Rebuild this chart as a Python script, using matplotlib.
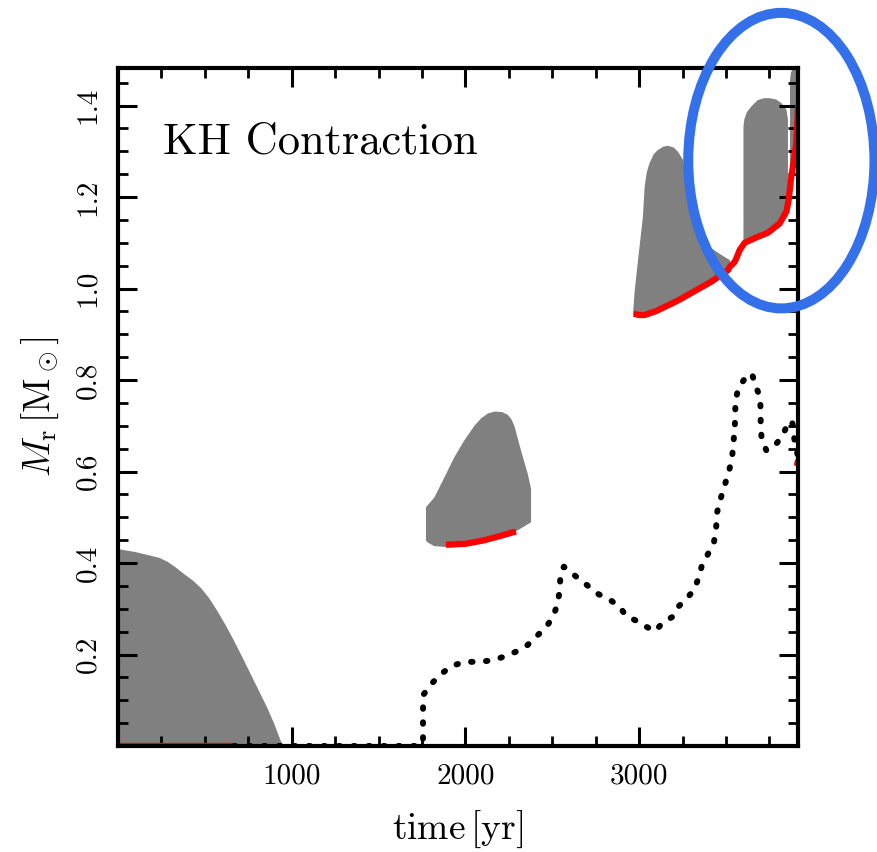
import matplotlib
matplotlib.use("Agg")
import matplotlib.pyplot as plt
from matplotlib.patches import Ellipse

plt.rcParams['font.family'] = ['cmr10', 'DejaVu Serif']
plt.rcParams['mathtext.fontset'] = 'cm'
plt.rcParams['axes.unicode_minus'] = False

# convective zones (outline in time [yr], mass coordinate [Msun])
zone1_t = [0, 5, 100, 188, 240, 284, 330, 380, 430, 476, 525, 572, 620, 668, 716, 764, 812,
           860, 900, 937, 955, 0]
zone1_m = [0.430, 0.430, 0.424, 0.416, 0.411, 0.403, 0.391, 0.376, 0.362, 0.346, 0.323, 0.295,
           0.264, 0.230, 0.194, 0.157, 0.120, 0.083, 0.048, 0.011, 0.0, 0.0]

zone2_t = [1773, 1773, 1821, 1879, 1936, 1994, 2052, 2090, 2130, 2170, 2210, 2244, 2265, 2282,
           2320, 2359, 2378, 2378, 2282, 2200, 2109, 2000, 1917, 1820, 1783]
zone2_m = [0.449, 0.522, 0.543, 0.587, 0.631, 0.668, 0.700, 0.716, 0.727, 0.731, 0.730, 0.724,
           0.714, 0.700, 0.646, 0.595, 0.562, 0.489, 0.467, 0.455, 0.445, 0.437, 0.434, 0.437,
           0.445]

zone3_t = [2965, 2975, 2994, 3022, 3032, 3045, 3060, 3085, 3109, 3140, 3166, 3200, 3224, 3253,
           3275, 3300, 3330, 3360, 3415, 3492, 3523, 3523, 3416, 3300, 3166, 3100, 3032, 2969]
zone3_m = [0.945, 0.996, 1.062, 1.157, 1.223, 1.255, 1.274, 1.294, 1.303, 1.310, 1.312, 1.308,
           1.299, 1.281, 1.220, 1.150, 1.120, 1.105, 1.088, 1.069, 1.062, 1.045, 1.015, 0.990,
           0.963, 0.951, 0.942, 0.942]

zone4_t = [3601, 3601, 3606, 3620, 3646, 3684, 3720, 3751, 3790, 3820, 3848, 3857, 3857, 3848,
           3809, 3742, 3665, 3608]
zone4_m = [1.100, 1.354, 1.370, 1.385, 1.398, 1.412, 1.416, 1.416, 1.413, 1.405, 1.391, 1.370,
           1.193, 1.168, 1.142, 1.122, 1.110, 1.100]

zone5_t = [3869, 3869, 3874, 3882, 3920, 3920, 3905, 3892, 3876]
zone5_m = [1.230, 1.455, 1.472, 1.478, 1.478, 1.300, 1.318, 1.281, 1.244]

# lower boundaries of the zones
bnd1_t = [0, 668]
bnd1_m = [0.0, 0.0]
bnd2_t = [1888, 2000, 2100, 2200, 2291]
bnd2_m = [0.440, 0.442, 0.449, 0.459, 0.469]
bnd3_t = [2969, 3000, 3032, 3100, 3166, 3230, 3300, 3416, 3512, 3521, 3550, 3560, 3579, 3608,
          3665, 3742, 3809, 3848, 3861, 3876, 3892, 3905, 3911, 3916]
bnd3_m = [0.945, 0.942, 0.942, 0.951, 0.963, 0.975, 0.990, 1.015, 1.040, 1.047, 1.058, 1.066,
          1.084, 1.100, 1.110, 1.122, 1.142, 1.168, 1.193, 1.244, 1.281, 1.318, 1.365, 1.400]
bnd4_t = [3908, 3916]
bnd4_m = [0.612, 0.625]

# hydrogen burning shell position
shell_t = [668, 1740, 1756, 1756, 1760, 1802, 1859, 1921, 1998, 2084, 2163, 2236, 2302, 2359,
           2413, 2465, 2507, 2532, 2544, 2547, 2567, 2632, 2699, 2766, 2834, 2887, 2926, 2989,
           3045, 3093, 3137, 3191, 3224, 3271, 3316, 3342, 3362, 3400, 3431, 3444, 3450, 3469,
           3492, 3515, 3535, 3542, 3550, 3554, 3554, 3573, 3612, 3650, 3669, 3696, 3700, 3700,
           3706, 3733, 3777, 3819, 3848, 3881, 3890, 3901, 3917]
shell_m = [0.0, 0.0, 0.014, 0.080, 0.113, 0.135, 0.157, 0.175, 0.184, 0.184, 0.188, 0.197, 0.208,
           0.221, 0.241, 0.260, 0.284, 0.313, 0.343, 0.376, 0.392, 0.372, 0.352, 0.332, 0.319,
           0.305, 0.284, 0.273, 0.260, 0.251, 0.270, 0.282, 0.304, 0.321, 0.341, 0.367, 0.395,
           0.422, 0.445, 0.479, 0.512, 0.540, 0.569, 0.597, 0.628, 0.659, 0.691, 0.722, 0.755,
           0.783, 0.805, 0.814, 0.788, 0.764, 0.733, 0.701, 0.669, 0.646, 0.655, 0.674, 0.697,
           0.711, 0.681, 0.653, 0.631]

fig = plt.figure(figsize=(8.78, 8.52), dpi=100)
ax = fig.add_axes([0.1344, 0.1244, 0.7745, 0.7958])

for zt, zm in [(zone1_t, zone1_m), (zone2_t, zone2_m), (zone3_t, zone3_m),
               (zone4_t, zone4_m), (zone5_t, zone5_m)]:
    ax.fill(zt, zm, color='gray', lw=0)

for bt, bm in [(bnd1_t, bnd1_m), (bnd2_t, bnd2_m), (bnd3_t, bnd3_m), (bnd4_t, bnd4_m)]:
    ax.plot(bt, bm, color='red', lw=4.5, solid_capstyle='butt')

ax.plot(shell_t, shell_m, color='black', lw=4.3, ls=(0, (0.25, 2.25)), dash_capstyle='round')

ax.set_xlim(0, 3915)
ax.set_ylim(0, 1.482)

ax.set_xticks([1000, 2000, 3000])
ax.set_xticklabels(['1000', '2000', '3000'])
ax.set_yticks([0.2, 0.4, 0.6, 0.8, 1.0, 1.2, 1.4])
ax.set_yticklabels(['0.2', '0.4', '0.6', '0.8', '1.0', '1.2', '1.4'], rotation=90, va='center')
ax.set_xticks([250, 500, 750, 1250, 1500, 1750, 2250, 2500, 2750, 3250, 3500, 3750], minor=True)
ax.set_yticks([0.05 * k for k in range(1, 30) if k % 4 != 0], minor=True)

ax.tick_params(which='both', direction='in', top=True, right=True, labelsize=21)
ax.tick_params(which='major', length=14, width=2.2)
ax.tick_params(which='minor', length=7, width=2.0)
ax.tick_params(axis='x', which='major', pad=12)
ax.tick_params(axis='y', which='major', pad=12)
for s in ax.spines.values():
    s.set_linewidth(3.0)

ax.set_xlabel(r'$\rm time\,[yr]$', fontsize=27, labelpad=14)
ax.set_ylabel(r'$M_{\rm r}\,[{\rm M}_\odot]$', fontsize=27, labelpad=10)

ax.text(257, 1.296, 'KH Contraction', fontsize=32, va='baseline')

ax.add_patch(Ellipse((3819, 1.2795), 1072, 0.646, fill=False, ec='#3470EA', lw=7.2,
                     clip_on=False, zorder=10))

fig.savefig('out.png', dpi=100)
